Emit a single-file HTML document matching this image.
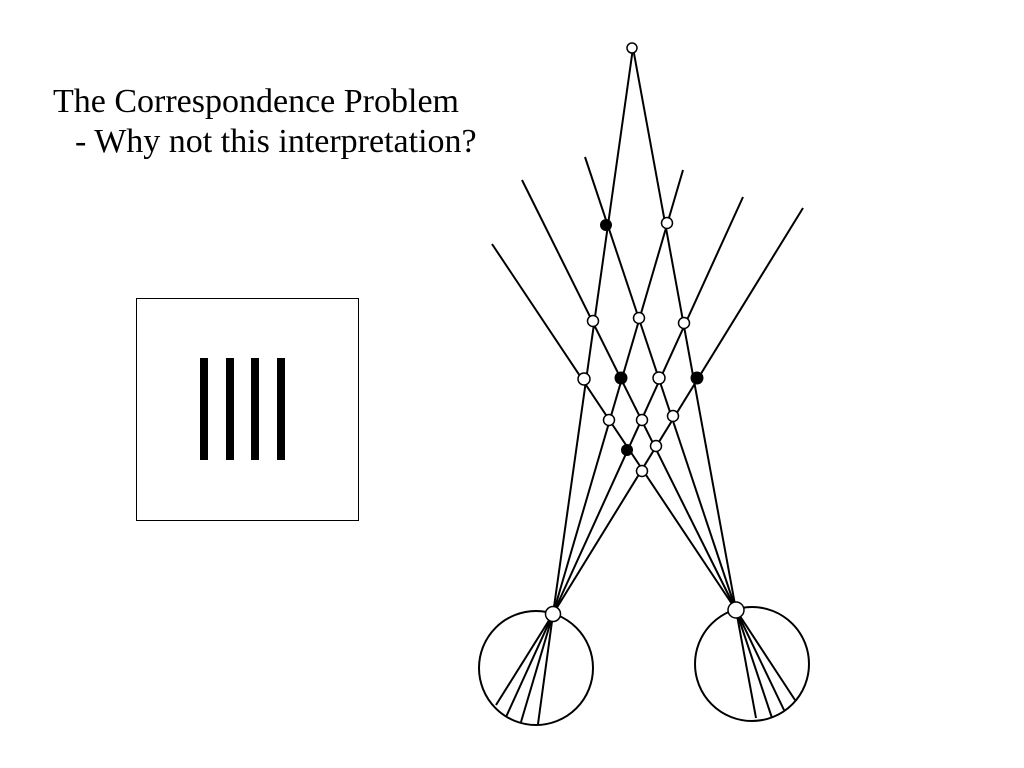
<!DOCTYPE html>
<html><head><style>
body{margin:0;background:#fff;width:1024px;height:768px;overflow:hidden;position:relative}
.t{position:absolute;font-family:"Liberation Serif",serif;font-size:34px;line-height:40px;color:#000;white-space:nowrap}
</style></head><body>
<div class="t" style="left:53px;top:82px">The Correspondence Problem</div>
<div class="t" style="left:75px;top:122px">- Why not this interpretation?</div>
<svg width="1024" height="768" style="position:absolute;left:0;top:0">
<rect x="136.5" y="298.5" width="222" height="222" fill="none" stroke="#000" stroke-width="1"/>
<g fill="#000"><rect x="200" y="358" width="8" height="102"/><rect x="226" y="358" width="8" height="102"/><rect x="251" y="358" width="8" height="102"/><rect x="277" y="358" width="8" height="102"/></g>
<g stroke="#000" stroke-width="2" fill="none">
<circle cx="536" cy="668" r="57"/><circle cx="752" cy="664" r="57"/>
<line x1="553" y1="614" x2="633" y2="48"/><line x1="553" y1="614" x2="683" y2="170"/><line x1="553" y1="614" x2="743" y2="197"/><line x1="553" y1="614" x2="803" y2="208"/>
<line x1="736" y1="610" x2="633" y2="48"/><line x1="736" y1="610" x2="585" y2="157"/><line x1="736" y1="610" x2="522" y2="180"/><line x1="736" y1="610" x2="492" y2="244"/>
<line x1="553" y1="614" x2="496" y2="705"/><line x1="553" y1="614" x2="506" y2="717"/><line x1="553" y1="614" x2="521" y2="722"/><line x1="553" y1="614" x2="538" y2="724"/>
<line x1="736" y1="610" x2="756" y2="718"/><line x1="736" y1="610" x2="772" y2="718"/><line x1="736" y1="610" x2="784" y2="710"/><line x1="736" y1="610" x2="795" y2="700"/>
</g>
<g stroke="#000" stroke-width="1.5" fill="#fff">
<circle cx="632" cy="48" r="5"/><circle cx="667" cy="223" r="5.5"/><circle cx="593" cy="321" r="5.5"/><circle cx="639" cy="318" r="5.5"/><circle cx="684" cy="323" r="5.5"/><circle cx="584" cy="379" r="6"/><circle cx="659" cy="378" r="6"/><circle cx="609" cy="420" r="5.5"/><circle cx="642" cy="420" r="5.5"/><circle cx="673" cy="416" r="5.5"/><circle cx="656" cy="446" r="5.5"/><circle cx="642" cy="471" r="5.5"/><circle cx="553" cy="614" r="7.5"/><circle cx="736" cy="610" r="8"/>
</g>
<g fill="#000"><circle cx="606" cy="225" r="6"/><circle cx="621" cy="378" r="6.5"/><circle cx="697" cy="378" r="6.5"/><circle cx="627" cy="450" r="6"/></g>
</svg>
</body></html>
